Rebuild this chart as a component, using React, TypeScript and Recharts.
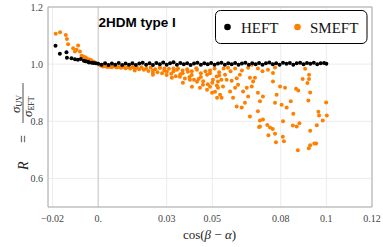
import { ScatterChart, Scatter, XAxis, YAxis, CartesianGrid, ReferenceLine } from "recharts";

const xTicks = [-0.02, 0, 0.03, 0.05, 0.08, 0.1, 0.12];
const yTicks = [0.6, 0.8, 1.0, 1.2];

// HEFT (black): a few points at negative cos, then the flat band at R ~ 1
const heftLeft = [
  [-0.0187, 1.064], [-0.0168, 1.036], [-0.0139, 1.042], [-0.0137, 1.022], [-0.0117, 1.021],
  [-0.0102, 1.017], [-0.0089, 1.015], [-0.0076, 1.018], [-0.0063, 1.012], [-0.0055, 1.01],
  [-0.0045, 1.008], [-0.004, 1.006], [-0.0028, 1.005], [-0.002, 1.004], [-0.001, 1.003],
];

const heftBand = [
  [0.0, 1.001], [0.0015, 0.998], [0.003, 1.003], [0.0045, 0.997], [0.006, 1.002], [0.0075, 0.998],
  [0.009, 1.004], [0.0105, 0.997], [0.012, 1.002], [0.0135, 0.998], [0.015, 1.003], [0.0165, 0.997],
  [0.018, 1.002], [0.0195, 1.005], [0.021, 0.998], [0.0225, 1.003], [0.024, 0.997], [0.0255, 1.004],
  [0.027, 1.0], [0.0285, 1.006], [0.03, 0.998], [0.0315, 1.003], [0.033, 1.007], [0.0345, 0.998],
  [0.036, 1.004], [0.0375, 1.0], [0.039, 1.003], [0.0405, 0.997], [0.042, 1.002], [0.0435, 1.005],
  [0.045, 0.998], [0.0465, 1.003], [0.048, 1.0], [0.0495, 1.004], [0.051, 0.998], [0.0525, 1.002],
  [0.054, 1.005], [0.0555, 0.998], [0.057, 1.003], [0.0585, 1.0], [0.06, 1.004], [0.0615, 0.998],
  [0.063, 1.002], [0.0645, 1.005], [0.066, 0.998], [0.0675, 1.003], [0.069, 1.0], [0.0705, 1.004],
  [0.072, 0.998], [0.0735, 1.003], [0.075, 1.006], [0.0765, 1.0], [0.078, 1.003], [0.0795, 0.998],
  [0.081, 1.005], [0.0825, 1.001], [0.084, 1.004], [0.0855, 0.998], [0.087, 1.003], [0.0885, 1.005],
  [0.09, 1.0], [0.0915, 1.004], [0.093, 1.001], [0.0945, 1.005], [0.096, 1.0], [0.0975, 1.003],
  [0.099, 1.004], [0.1, 1.001],
];

// SMEFT (orange)
const smeftLeft = [
  [-0.0186, 1.106], [-0.0167, 1.112], [-0.0142, 1.102], [-0.0137, 1.088], [-0.0132, 1.07],
  [-0.011, 1.056], [-0.0102, 1.044], [-0.0095, 1.05], [-0.0088, 1.065], [-0.008, 1.044],
  [-0.0073, 1.029], [-0.0066, 1.027], [-0.0058, 1.024], [-0.0054, 1.022], [-0.0044, 1.017],
  [-0.0036, 1.015], [-0.0029, 1.013], [-0.0019, 1.008],
];

const smeftNearBand = [
  [0.001, 0.995], [0.002, 0.992], [0.003, 0.993], [0.004, 0.99], [0.005, 0.991], [0.006, 0.989],
  [0.007, 0.993], [0.008, 0.988], [0.009, 0.99], [0.01, 0.987], [0.011, 0.991], [0.012, 0.986],
  [0.013, 0.989], [0.014, 0.985], [0.015, 0.99], [0.016, 0.984], [0.017, 0.987], [0.018, 0.982],
  [0.019, 0.989], [0.02, 0.98], [0.021, 0.985], [0.022, 0.976], [0.023, 0.988], [0.024, 0.978],
  [0.025, 0.982], [0.026, 0.972], [0.027, 0.987], [0.028, 0.968], [0.029, 0.978], [0.03, 0.962],
  [0.031, 0.984], [0.032, 0.966], [0.033, 0.975], [0.034, 0.958], [0.035, 0.985], [0.036, 0.965],
  [0.037, 0.968], [0.038, 0.95], [0.039, 0.982], [0.04, 0.955], [0.041, 0.962], [0.042, 0.945],
  [0.043, 0.986], [0.044, 0.948], [0.045, 0.955], [0.046, 0.94], [0.047, 0.975], [0.048, 0.93],
  [0.049, 0.968], [0.05, 0.935], [0.051, 0.985], [0.052, 0.925], [0.053, 0.972], [0.054, 0.945],
  [0.055, 0.985], [0.058, 0.975], [0.06, 0.985], [0.063, 0.978], [0.07, 0.985], [0.072, 0.975],
  [0.016, 0.978], [0.024, 0.97], [0.029, 0.985], [0.033, 0.985], [0.037, 0.978], [0.041, 0.975],
  [0.045, 0.968], [0.049, 0.978], [0.053, 0.96],
];

const smeftSpread = [
  [0.024, 0.963], [0.0301, 0.973], [0.0323, 0.952], [0.0358, 0.956], [0.0371, 0.935], [0.0402, 0.945],
  [0.0411, 0.921], [0.0433, 0.938], [0.0446, 0.917], [0.0459, 0.928], [0.0477, 0.91], [0.049, 0.921],
  [0.0499, 0.9], [0.0512, 0.903], [0.0521, 0.882], [0.0525, 0.917], [0.0477, 0.963], [0.0503, 0.945],
  [0.0433, 0.98], [0.0345, 0.98], [0.0271, 0.987], [0.0393, 0.973], [0.0519, 0.957], [0.0525, 0.939],
  [0.0556, 0.963], [0.0569, 0.987], [0.0563, 0.945], [0.0585, 0.942], [0.0607, 0.951], [0.0621, 0.963],
  [0.0613, 0.928], [0.0657, 0.987], [0.0665, 0.952], [0.0673, 0.922], [0.0679, 0.939], [0.0687, 0.952],
  [0.0651, 0.917], [0.0635, 0.904], [0.06, 0.917], [0.0578, 0.904], [0.0547, 0.922], [0.0534, 0.893],
  [0.0541, 0.882], [0.0591, 0.882], [0.0607, 0.852], [0.0629, 0.848], [0.0643, 0.865], [0.0657, 0.887],
  [0.0665, 0.817], [0.07, 0.9], [0.0709, 0.87], [0.0722, 0.887], [0.0744, 0.98], [0.0766, 0.969],
  [0.0766, 0.939], [0.0775, 0.865], [0.0782, 0.893], [0.0797, 0.922], [0.0819, 0.917], [0.0804, 0.858],
  [0.0826, 0.848], [0.081, 0.8], [0.07, 0.835], [0.0709, 0.782], [0.0753, 0.778], [0.0775, 0.988],
  [0.0673, 0.998], [0.0907, 0.984], [0.0924, 0.963], [0.0924, 0.948], [0.0896, 0.948], [0.0917, 0.934],
  [0.0867, 0.914], [0.0877, 0.908], [0.0929, 0.901], [0.0844, 0.87], [0.0921, 0.873], [0.0999, 0.866],
  [0.0855, 0.826], [0.0965, 0.833], [0.0968, 0.82], [0.1002, 0.82], [0.0984, 0.803], [0.0958, 0.786],
  [0.0882, 0.793], [0.0853, 0.785], [0.087, 0.782], [0.0929, 0.767], [0.0709, 0.803], [0.0722, 0.806],
  [0.0705, 0.78], [0.0741, 0.787], [0.0765, 0.773], [0.0746, 0.751], [0.0775, 0.756], [0.0779, 0.727],
  [0.0809, 0.746], [0.0814, 0.73], [0.0875, 0.699], [0.0929, 0.716], [0.0923, 0.706], [0.0947, 0.722],
  [0.0955, 0.722],
];

const toPts = (arr: number[][]) => arr.map(([x, y]) => ({ x, y }));
const heftData = toPts([...heftLeft, ...heftBand]);
const smeftData = toPts([...smeftLeft, ...smeftNearBand, ...smeftSpread]);

const BLACK = "#000000";
const ORANGE = "#ff8000";
const serif = "Liberation Serif";

const dot = (color: string) => (props: any) => (
  <circle cx={props.cx} cy={props.cy} r={2} fill={color} />
);

const fmtX = (v: number) => {
  if (v === 0) return "0.";
  if (v < 0) return "\u2212" + Math.abs(v).toString();
  return v.toString();
};

const XTick = (props: any) => (
  <text x={props.x} y={props.y + 13} textAnchor="middle" fontFamily={serif} fontSize={10} fill="#444">
    {fmtX(props.payload.value)}
  </text>
);

const YTick = (props: any) => (
  <text x={props.x - 3} y={props.y + 3.5} textAnchor="end" fontFamily={serif} fontSize={10} fill="#444">
    {props.payload.value.toFixed(1)}
  </text>
);

const App = () => {
  return (
    <div style={{ position: "absolute", left: 0, top: 0, width: 383, height: 247, background: "#fff" }}>
      <ScatterChart width={383} height={247} margin={{ top: 7, right: 11, bottom: 10, left: 8 }}>
        <CartesianGrid stroke="#ececec" />
        <XAxis
          type="number"
          dataKey="x"
          domain={[-0.022, 0.12]}
          ticks={xTicks}
          interval={0}
          allowDataOverflow
          height={30}
          tickLine={false}
          tickSize={0}
          axisLine={{ stroke: "#aaa" }}
          tick={<XTick />}
        />
        <YAxis
          type="number"
          dataKey="y"
          domain={[0.5, 1.2]}
          ticks={yTicks}
          interval={0}
          allowDataOverflow
          width={40}
          tickLine={false}
          tickSize={0}
          axisLine={{ stroke: "#aaa" }}
          tick={<YTick />}
        />
        <ReferenceLine x={0} stroke="#c8c8c8" />
        <ReferenceLine y={1.2} stroke="#aaa" />
        <ReferenceLine x={0.12} stroke="#aaa" />
        <Scatter name="SMEFT" data={smeftData} shape={dot(ORANGE)} isAnimationActive={false} />
        <Scatter name="HEFT" data={heftData} shape={dot(BLACK)} isAnimationActive={false} />
      </ScatterChart>
      <svg width={383} height={247} style={{ position: "absolute", left: 0, top: 0, pointerEvents: "none" }}>
        <text x={98.5} y={27.3} fontFamily="Liberation Sans" fontWeight="bold" fontSize={13.5} fill="#000">
          2HDM type I
        </text>
        <rect x={215.5} y={10.5} width={151.5} height={33} rx={5} fill="#fff" stroke="#000" />
        <circle cx={227.5} cy={27} r={3.3} fill={BLACK} />
        <text x={241} y={32.5} fontFamily={serif} fontSize={15} fill="#111">HEFT</text>
        <circle cx={297.5} cy={27} r={3.3} fill={ORANGE} />
        <text x={310} y={32.5} fontFamily={serif} fontSize={15} fill="#111">SMEFT</text>
        <text x={209.5} y={239} textAnchor="middle" fontFamily={serif} fontSize={13} fill="#222">
          cos(<tspan fontStyle="italic">β</tspan> − <tspan fontStyle="italic">α</tspan>)
        </text>
        <g transform="translate(23,127) rotate(-90)" fontFamily={serif} fill="#222">
          <text x={-43} y={5} fontSize={14} fontStyle="italic">R</text>
          <text x={-16} y={5} fontSize={14}>=</text>
          <line x1={4} x2={44} y1={0} y2={0} stroke="#222" strokeWidth={0.8} />
          <text x={14} y={-3} fontSize={13}>
            <tspan fontStyle="italic">σ</tspan>
            <tspan fontSize={8} dy={2}>UV</tspan>
          </text>
          <text x={10} y={9} fontSize={13}>
            <tspan fontStyle="italic">σ</tspan>
            <tspan fontSize={8} dy={2}>EFT</tspan>
          </text>
        </g>
      </svg>
    </div>
  );
};

export default App;
